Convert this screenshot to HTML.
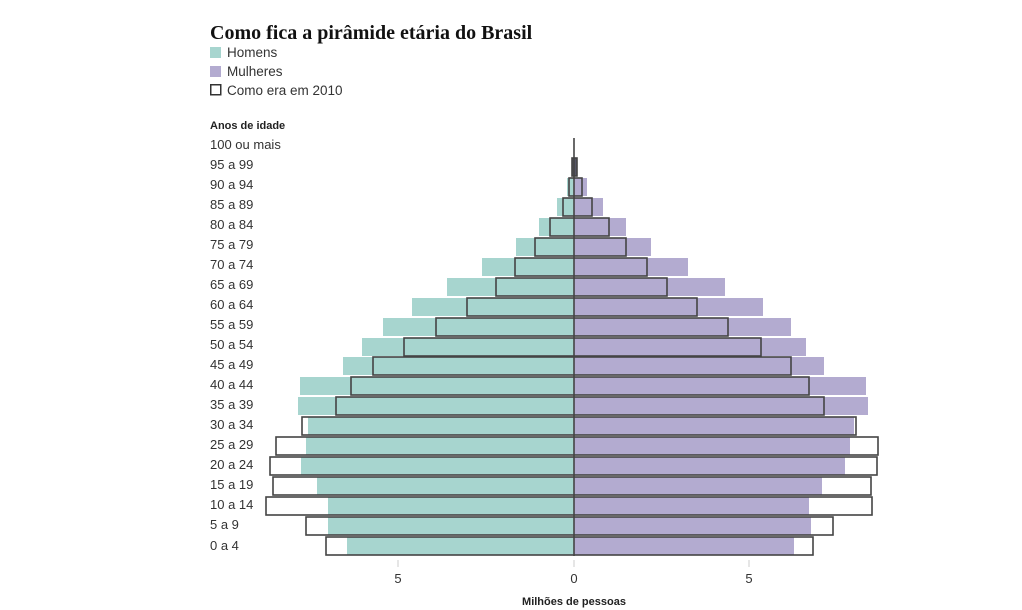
<!DOCTYPE html>
<html><head><meta charset="utf-8"><style>
html,body{margin:0;padding:0;background:#fff;}
svg{display:block;font-family:"Liberation Sans",sans-serif;}
</style></head><body>
<svg width="1022" height="610" viewBox="0 0 1022 610" xmlns="http://www.w3.org/2000/svg">
<text x="210" y="39" font-family="Liberation Serif,serif" font-weight="bold" font-size="20" fill="#111">Como fica a pirâmide etária do Brasil</text>
<rect x="210" y="47" width="11" height="11" fill="#a7d5cf"/>
<text x="227" y="57" font-size="13.5" fill="#333">Homens</text>
<rect x="210" y="66" width="11" height="11" fill="#b3abd0"/>
<text x="227" y="76" font-size="13.5" fill="#333">Mulheres</text>
<rect x="210.75" y="84.75" width="10" height="10" fill="none" stroke="#333" stroke-width="1.5"/>
<text x="227" y="95" font-size="13.5" fill="#333">Como era em 2010</text>
<text x="210" y="129" font-size="11" font-weight="bold" fill="#222">Anos de idade</text>
<g font-size="13" fill="#333">
<text x="210" y="149">100 ou mais</text><text x="210" y="169">95 a 99</text><text x="210" y="189">90 a 94</text><text x="210" y="209">85 a 89</text><text x="210" y="229">80 a 84</text><text x="210" y="249">75 a 79</text><text x="210" y="269">70 a 74</text><text x="210" y="289">65 a 69</text><text x="210" y="309">60 a 64</text><text x="210" y="329">55 a 59</text><text x="210" y="349">50 a 54</text><text x="210" y="369">45 a 49</text><text x="210" y="389">40 a 44</text><text x="210" y="409">35 a 39</text><text x="210" y="429">30 a 34</text><text x="210" y="449">25 a 29</text><text x="210" y="469">20 a 24</text><text x="210" y="489">15 a 19</text><text x="210" y="509">10 a 14</text><text x="210" y="529">5 a 9</text><text x="210" y="550">0 a 4</text>
</g>
<g fill="#a7d5cf">
<rect x="573" y="158" width="1" height="18"/>
<rect x="567" y="178" width="7" height="18"/>
<rect x="557" y="198" width="17" height="18"/>
<rect x="539" y="218" width="35" height="18"/>
<rect x="516" y="238" width="58" height="18"/>
<rect x="482" y="258" width="92" height="18"/>
<rect x="447" y="278" width="127" height="18"/>
<rect x="412" y="298" width="162" height="18"/>
<rect x="383" y="318" width="191" height="18"/>
<rect x="362" y="338" width="212" height="18"/>
<rect x="343" y="357" width="231" height="18"/>
<rect x="300" y="377" width="274" height="18"/>
<rect x="298" y="397" width="276" height="18"/>
<rect x="308" y="417" width="266" height="18"/>
<rect x="306" y="437" width="268" height="18"/>
<rect x="301" y="457" width="273" height="18"/>
<rect x="317" y="477" width="257" height="18"/>
<rect x="328" y="497" width="246" height="18"/>
<rect x="328" y="517" width="246" height="18"/>
<rect x="347" y="537" width="227" height="18"/>
</g>
<g fill="#b3abd0">
<rect x="574" y="158" width="3" height="18"/>
<rect x="574" y="178" width="13" height="18"/>
<rect x="574" y="198" width="29" height="18"/>
<rect x="574" y="218" width="52" height="18"/>
<rect x="574" y="238" width="77" height="18"/>
<rect x="574" y="258" width="114" height="18"/>
<rect x="574" y="278" width="151" height="18"/>
<rect x="574" y="298" width="189" height="18"/>
<rect x="574" y="318" width="217" height="18"/>
<rect x="574" y="338" width="232" height="18"/>
<rect x="574" y="357" width="250" height="18"/>
<rect x="574" y="377" width="292" height="18"/>
<rect x="574" y="397" width="294" height="18"/>
<rect x="574" y="417" width="280" height="18"/>
<rect x="574" y="437" width="276" height="18"/>
<rect x="574" y="457" width="271" height="18"/>
<rect x="574" y="477" width="248" height="18"/>
<rect x="574" y="497" width="235" height="18"/>
<rect x="574" y="517" width="237" height="18"/>
<rect x="574" y="537" width="220" height="18"/>
</g>
<g fill="none" stroke="#444" stroke-width="1.6">
<rect x="572" y="158" width="5" height="18" fill="#556"/>
<rect x="569" y="178" width="13" height="18"/>
<rect x="563" y="198" width="29" height="18"/>
<rect x="550" y="218" width="59" height="18"/>
<rect x="535" y="238" width="91" height="18"/>
<rect x="515" y="258" width="132" height="18"/>
<rect x="496" y="278" width="171" height="18"/>
<rect x="467" y="298" width="230" height="18"/>
<rect x="436" y="318" width="292" height="18"/>
<rect x="404" y="338" width="357" height="18"/>
<rect x="373" y="357" width="418" height="18"/>
<rect x="351" y="377" width="458" height="18"/>
<rect x="336" y="397" width="488" height="18"/>
<rect x="302" y="417" width="554" height="18"/>
<rect x="276" y="437" width="602" height="18"/>
<rect x="270" y="457" width="607" height="18"/>
<rect x="273" y="477" width="598" height="18"/>
<rect x="266" y="497" width="606" height="18"/>
<rect x="306" y="517" width="527" height="18"/>
<rect x="326" y="537" width="487" height="18"/>
</g>
<line x1="574" y1="138" x2="574" y2="556" stroke="#444" stroke-width="1.6"/>
<line x1="398" y1="560" x2="398" y2="567" stroke="#ccc"/>
<line x1="574" y1="560" x2="574" y2="567" stroke="#ccc"/>
<line x1="749" y1="560" x2="749" y2="567" stroke="#ccc"/>
<g font-size="13" fill="#333" text-anchor="middle">
<text x="398" y="583">5</text><text x="574" y="583">0</text><text x="749" y="583">5</text>
</g>
<text x="574" y="605" font-size="11" font-weight="bold" fill="#222" text-anchor="middle">Milhões de pessoas</text>
</svg>
</body></html>
